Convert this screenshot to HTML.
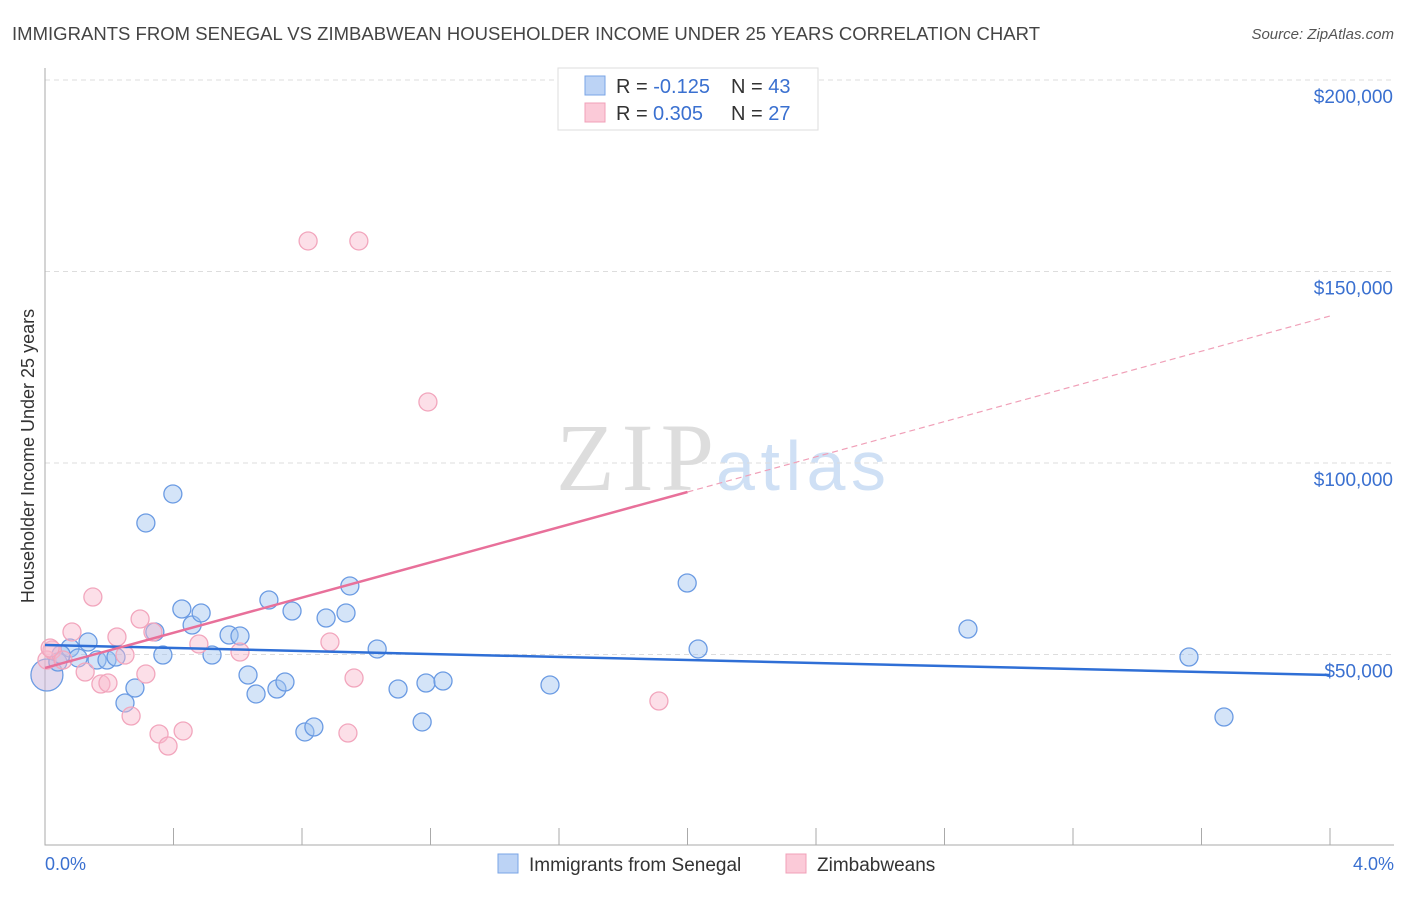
<!DOCTYPE html>
<html><head><meta charset="utf-8"><style>
body{margin:0;background:#fff;font-family:"Liberation Sans",sans-serif}
</style></head><body>
<svg id="c" width="1406" height="892" xmlns="http://www.w3.org/2000/svg" font-family="Liberation Sans, sans-serif">
<text x="12" y="40" font-size="18.5" fill="#444" textLength="1028">IMMIGRANTS FROM SENEGAL VS ZIMBABWEAN HOUSEHOLDER INCOME UNDER 25 YEARS CORRELATION CHART</text>
<text x="1394" y="39" font-size="15" fill="#555" font-style="italic" text-anchor="end">Source: ZipAtlas.com</text>
<text x="714" y="490" font-size="96" fill="#ddd" text-anchor="end" textLength="158" font-family="Liberation Serif, serif">ZIP</text>
<text x="716" y="490" font-size="70" fill="#cfe0f5" textLength="170">atlas</text>
<g id="grid"></g><g id="marks"></g>
<text transform="translate(34,456) rotate(-90)" font-size="18" fill="#333" text-anchor="middle">Householder Income Under 25 years</text>
<text x="45" y="870" font-size="18" fill="#3a70d0">0.0%</text>
<text x="1394" y="870" font-size="18" fill="#3a70d0" text-anchor="end">4.0%</text>
<g>
<rect x="558" y="68" width="260" height="62" fill="#fff" stroke="#ddd"/>
<rect x="585" y="76" width="20" height="19" fill="#bcd3f5" stroke="#7aa5e6"/>
<rect x="585" y="103" width="20" height="19" fill="#fbcad8" stroke="#f0a0b8"/>
<text x="616" y="93" font-size="20" fill="#333">R = <tspan fill="#3a70d0">-0.125</tspan><tspan x="731">N = </tspan><tspan fill="#3a70d0">43</tspan></text>
<text x="616" y="120" font-size="20" fill="#333">R = <tspan fill="#3a70d0" x="653">0.305</tspan><tspan x="731">N = </tspan><tspan fill="#3a70d0">27</tspan></text>
</g>
<g>
<rect x="498" y="854" width="20" height="19" fill="#bcd3f5" stroke="#7aa5e6"/>
<text x="529" y="871" font-size="19" fill="#333">Immigrants from Senegal</text>
<rect x="786" y="854" width="20" height="19" fill="#fbcad8" stroke="#f0a0b8"/>
<text x="817" y="871" font-size="19" fill="#333">Zimbabweans</text>
</g>
</svg>
<script>
const yTicks=[50000,100000,150000,200000];
const yTickLabels=["$50,000","$100,000","$150,000","$200,000"];
const blueX=[0.006,0.040,0.078,0.134,0.103,0.162,0.193,0.221,0.280,0.249,0.314,0.398,0.342,0.367,0.426,0.458,0.486,0.520,0.573,0.607,0.632,0.657,0.697,0.722,0.747,0.769,0.809,0.837,0.875,0.937,0.949,1.034,1.099,1.174,1.186,1.239,1.572,1.999,2.033,2.873,3.561,3.670,0.050];
const blueY=[44650,48040,51700,53260,49090,48560,48560,49350,41250,37340,84340,91910,55880,49870,61880,57700,60840,49870,55090,54830,44650,39690,64230,40990,42820,61360,29770,31070,59530,60840,67890,51440,40990,32380,42560,43080,42040,68670,51440,56660,49350,33680,50000];
const pinkX=[0.006,0.022,0.056,0.084,0.125,0.149,0.174,0.196,0.224,0.249,0.268,0.296,0.314,0.336,0.355,0.383,0.430,0.479,0.607,0.819,0.887,0.943,0.962,0.977,1.192,1.911,0.016];
const pinkY=[48560,51180,48560,55880,45430,65010,42300,42560,54570,49870,33940,59270,44910,55880,29240,26110,30030,52740,50650,157970,53260,29500,43860,157970,115930,37860,51700];
const blueTrend=[52480,44650];
const pinkTrend=[46480,138380];
const xs=v=>45+v/4*1285, ys=v=>846-v/50000*191.5;
const NS="http://www.w3.org/2000/svg";
function mk(t,a,p){const e=document.createElementNS(NS,t);for(const k in a)e.setAttribute(k,a[k]);p.appendChild(e);return e;}
const g=document.getElementById('grid'), m=document.getElementById('marks');
yTicks.forEach((t,i)=>{
 const l=mk('line',{x1:45,x2:1394,y1:ys(t),y2:ys(t),stroke:'#ddd','stroke-dasharray':'5,4'},g);
 
 
 const tx=mk('text',{x:1393,y:ys(t)+23,'font-size':19,fill:'#3a70d0','text-anchor':'end'},g);
 tx.textContent=yTickLabels[i];
 
 
});
const ax=mk('path',{d:'M45 68V845H1394',fill:'none',stroke:'#aaa'},g);


for(let i=1;i<=10;i++){const t=mk('line',{x1:xs(i*0.4),x2:xs(i*0.4),y1:828,y2:845,stroke:'#aaa'},g);
 
 }
blueX.forEach((x,i)=>{const c=mk('circle',{cx:xs(x),cy:ys(blueY[i]),r:i==0?16:9,fill:i==0?'rgba(200,180,220,0.5)':'rgba(160,195,240,0.45)',stroke:'#6b9be3','stroke-width':1.3},m);
 
 });
pinkX.forEach((x,i)=>{const c=mk('circle',{cx:xs(x),cy:ys(pinkY[i]),r:9,fill:'rgba(248,185,205,0.45)',stroke:'#f2a6bd','stroke-width':1.3},m);
 
 });
const bl=mk('line',{x1:xs(0),y1:ys(blueTrend[0]),x2:xs(4),y2:ys(blueTrend[1]),stroke:'#2f6fd6','stroke-width':2.5},m);


const pm=pinkTrend[0]+(pinkTrend[1]-pinkTrend[0])/2;
const pl=mk('line',{x1:xs(0),y1:ys(pinkTrend[0]),x2:xs(2),y2:ys(pm),stroke:'#e8709a','stroke-width':2.5},m);


const pd=mk('line',{x1:xs(2),y1:ys(pm),x2:xs(4),y2:ys(pinkTrend[1]),stroke:'#f0a0b8','stroke-width':1.2,'stroke-dasharray':'6,4'},m);


</script>
</body></html>
